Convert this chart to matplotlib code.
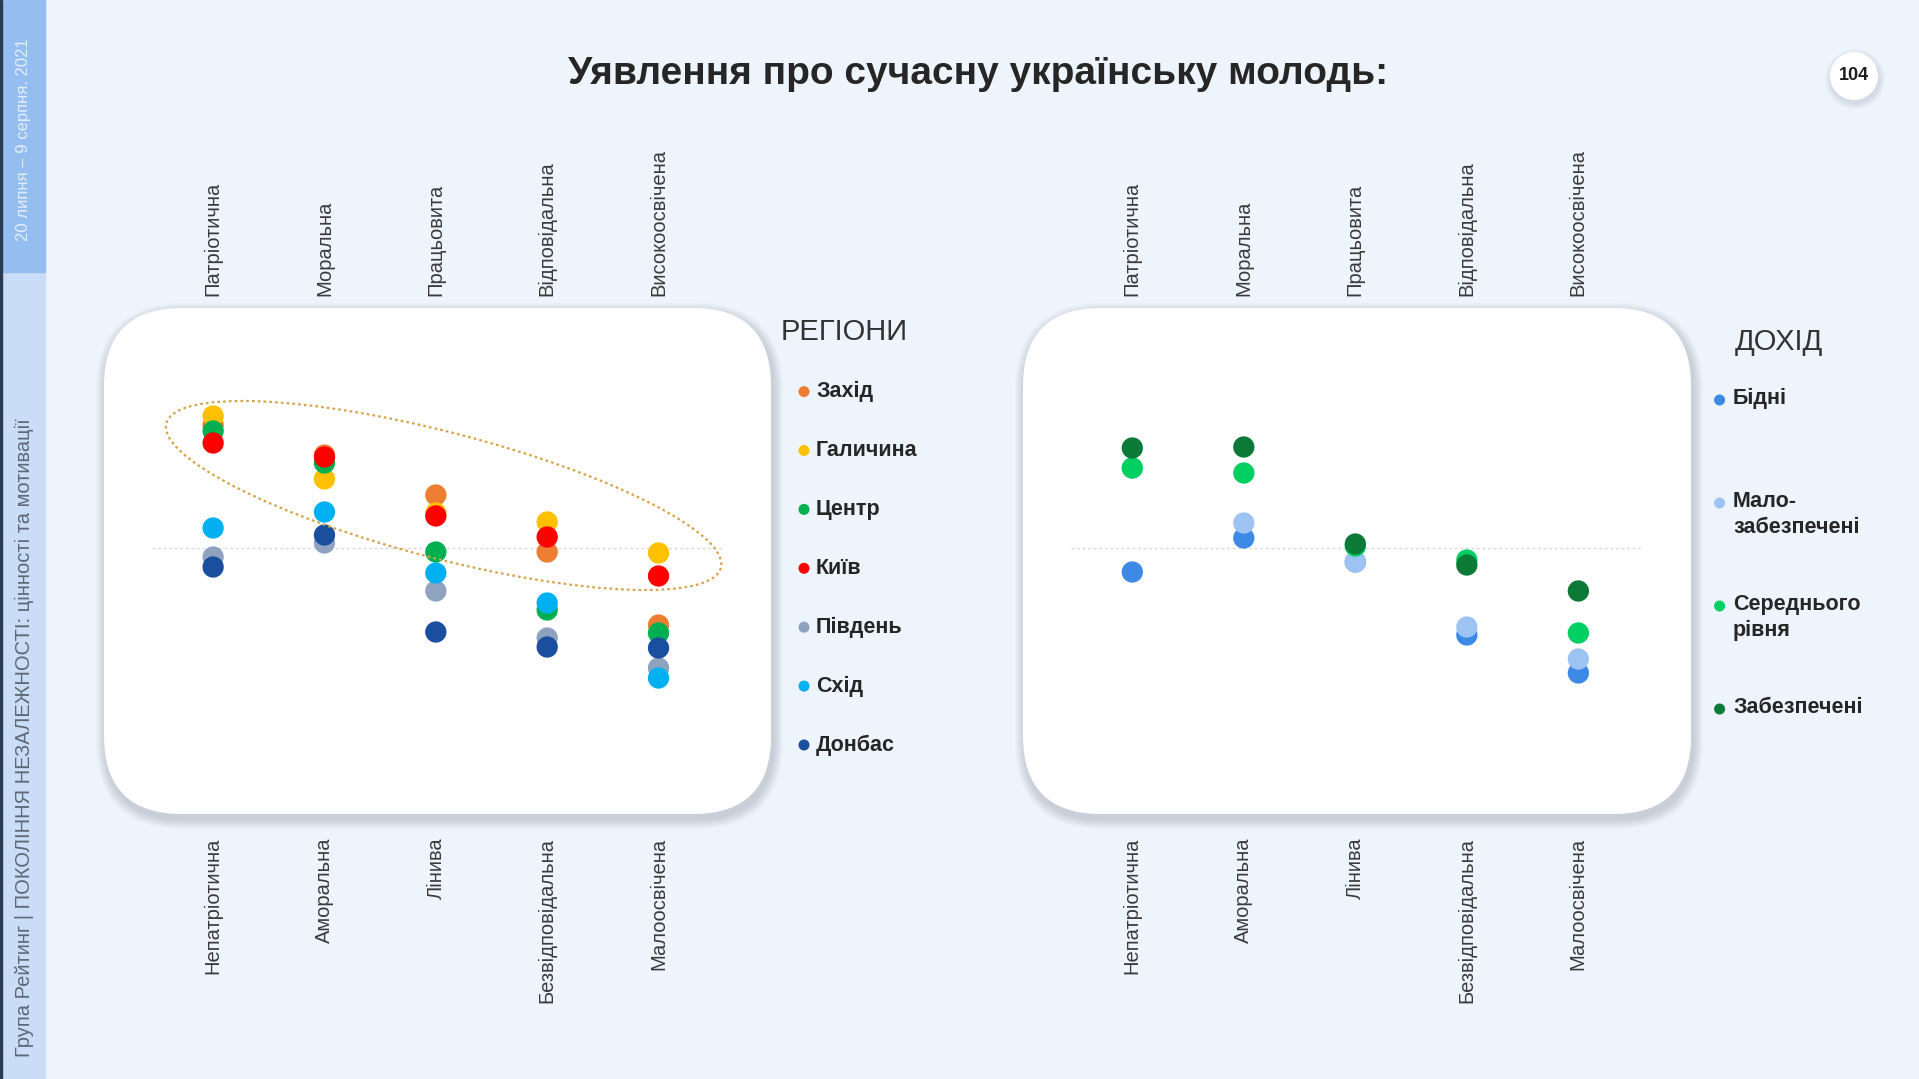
import matplotlib.pyplot as plt
from matplotlib.patches import FancyBboxPatch, Ellipse, Circle, Rectangle
from matplotlib.transforms import IdentityTransform

W, H = 1919, 1079
NARROW = ['Liberation Sans Narrow', 'Liberation Sans', 'DejaVu Sans']
plt.rcParams['font.family'] = NARROW

top_labels = ["Патріотична", "Моральна", "Працьовита", "Відповідальна", "Високоосвічена"]
bottom_labels = ["Непатріотична", "Аморальна", "Лінива", "Безвідповідальна", "Малоосвічена"]

# regions (score relative to neutral line)
regions = ["Захід", "Галичина", "Центр", "Київ", "Південь", "Схід", "Донбас"]
region_colors = ["#ED7D31", "#FFC000", "#00B050", "#FF0000", "#8FA3C0", "#00B0F0", "#1A4FA0"]
zakhid = [12.3, 9.3, 5.3, -0.4, -7.7]
halychyna = [13.2, 6.9, 3.5, 2.6, -0.5]
tsentr = [11.7, 8.5, -0.4, -6.2, -8.5]
kyiv = [10.5, 9.1, 3.2, 1.1, -2.8]
pivden = [-0.9, 0.5, -4.3, -9.0, -12.0]
skhid = [2.0, 3.6, -2.5, -5.5, -13.0]
donbas = [-1.9, 1.3, -8.4, -9.9, -10.0]
region_values = [zakhid, halychyna, tsentr, kyiv, pivden, skhid, donbas]

# income groups
incomes = ["Бідні", "Мало-\nзабезпечені", "Середнього\nрівня", "Забезпечені"]
income_colors = ["#3C8AE6", "#9DC3F3", "#00CF62", "#0B7A36"]
bidni = [-2.4, 1.0, -1.4, -8.7, -12.5]
malo = [8.0, 2.5, -1.4, -7.9, -11.1]
serednii = [8.0, 7.5, 0.2, -1.2, -8.5]
zabezpecheni = [10.0, 10.1, 0.4, -1.7, -4.3]
income_values = [bidni, malo, serednii, zabezpecheni]

fig = plt.figure(figsize=(W / 100, H / 100), dpi=100, facecolor="#EEF4FC")
bg = fig.add_axes([0, 0, 1, 1], zorder=0)
bg.set_xlim(0, W)
bg.set_ylim(H, 0)
bg.axis('off')

# side strip
bg.add_patch(Rectangle((0, 0), 45, H, color="#C9DDF6"))
bg.add_patch(Rectangle((0, 0), 45, 272, color="#95BEF0"))
bg.add_patch(Rectangle((0, 0), 2, H, color="#2A3A50"))
bg.text(24, 140, "20 липня – 9 серпня. 2021", rotation=90, ha='center', va='center',
        fontsize=12, color="#E4EEFB")
bg.text(24, 738, "Група Рейтинг | ПОКОЛІННЯ НЕЗАЛЕЖНОСТІ: цінності та мотивації", rotation=90,
        ha='center', va='center', fontsize=14.5, color="#5E6877")

# page number
for k in range(6, 0, -1):
    bg.add_patch(Circle((1855, 79), 24 + k, color="#9aa4b0", alpha=0.05, lw=0))
bg.add_patch(Circle((1854, 76), 24, color="white", lw=0))
bg.text(1854, 76, "104", ha='center', va='center', fontsize=13, weight='bold', color="#1e1e1e")

fig.text(978 / W, 1 - 74 / H, "Уявлення про сучасну українську молодь:", ha='center', va='center',
         fontsize=28, weight='bold', color="#262626")


def panel(x0, y0, x1, y1):
    r = 78
    for k in range(10, 0, -1):
        bg.add_patch(FancyBboxPatch((x0 - k + 2, y0 - k + 5), x1 - x0 + 2 * k, y1 - y0 + 2 * k,
                                    boxstyle=f"round,pad=0,rounding_size={r + k}",
                                    color="#7d8694", alpha=0.035, lw=0))
    bg.add_patch(FancyBboxPatch((x0, y0), x1 - x0, y1 - y0,
                                boxstyle=f"round,pad=0,rounding_size={r}", color="white", lw=0))


def make_ax(x0, y0, x1, y1):
    panel(x0, y0, x1, y1)
    ax = fig.add_axes([x0 / W, 1 - y1 / H, (x1 - x0) / W, (y1 - y0) / H], zorder=2)
    ax.patch.set_alpha(0)
    ax.set_xlim(-0.98, 5.01)
    ax.set_ylim(-26.6, 24)
    ax.set_yticks([])
    ax.set_xticks(range(5), bottom_labels, rotation=90, fontsize=14.5, color="#3a3a3a")
    ax.tick_params(axis='x', length=0, pad=17)
    top = ax.secondary_xaxis('top')
    top.set_xticks(range(5), top_labels, rotation=90, fontsize=14.5, color="#3a3a3a")
    top.tick_params(length=0, pad=8.5)
    for s in ax.spines.values():
        s.set_visible(False)
    for s in top.spines.values():
        s.set_visible(False)
    ax.hlines(0, -0.55, 4.57, colors="#d9d9d9", lw=1, linestyles=(0, (2, 2)), zorder=1)
    return ax


xs = list(range(5))

ax1 = make_ax(104, 308, 771, 814)
for vals, c in zip(region_values, region_colors):
    ax1.scatter(xs, vals, s=235, color=c, edgecolors='none', zorder=3)

# dotted highlight around the positive cluster
cx, cy = ax1.transData.transform((2.07, 5.25))
ax1.add_patch(Ellipse((cx, cy), 573, 126, angle=-14.6, transform=IdentityTransform(),
                      fill=False, ec="#D6A34A", lw=1.6, ls=(0, (1.2, 1.4)), zorder=4))

ax2 = make_ax(1023, 308, 1691, 814)
for vals, c in zip(income_values, income_colors):
    ax2.scatter(xs, vals, s=235, color=c, edgecolors='none', zorder=3)

# legends
bg.text(781, 332, "РЕГІОНИ", fontsize=21, color="#333333", va='center', ha='left')
for i, (name, c) in enumerate(zip(regions, region_colors)):
    y = 391.6 + i * 58.9
    bg.scatter(804, y, s=63, color=c, edgecolors='none')
    bg.text(816, y, name, fontsize=15.5, weight='bold', color="#262626", va='center', ha='left')

bg.text(1735, 341.5, "ДОХІД", fontsize=21, color="#333333", va='center', ha='left')
for i, (name, c) in enumerate(zip(incomes, income_colors)):
    y = 400 + i * 103
    bg.scatter(1719.6, y, s=63, color=c, edgecolors='none')
    bg.text(1733, y - 12, name, fontsize=15.5, weight='bold', color="#262626", va='top', ha='left',
            linespacing=1.3)

fig.savefig("out.png", dpi=100, facecolor=fig.get_facecolor())
